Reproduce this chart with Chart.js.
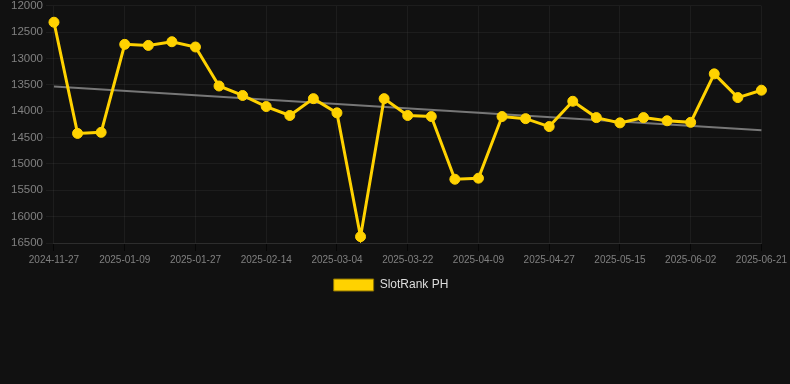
<!DOCTYPE html>
<html>
<head>
<meta charset="utf-8">
<script src="https://cdn.jsdelivr.net/npm/chart.js@4.4.0/dist/chart.umd.min.js"></script>
<style>
  html, body { margin: 0; padding: 0; background: #111111; overflow: hidden; }
  #wrap { position: relative; width: 790px; height: 305px; margin-top: -4px; }
</style>
</head>
<body>
<div id="wrap"><canvas id="rankChart"></canvas></div>
<script>
// Dates (x axis)
const dates = [
    '2024-11-27', '2024-12-21', '2025-01-03', '2025-01-09', '2025-01-15', '2025-01-21',
    '2025-01-27', '2025-02-02', '2025-02-08', '2025-02-14', '2025-02-20', '2025-02-26',
    '2025-03-04', '2025-03-10', '2025-03-16', '2025-03-22', '2025-03-28', '2025-04-03',
    '2025-04-09', '2025-04-15', '2025-04-21', '2025-04-27', '2025-05-03', '2025-05-09',
    '2025-05-15', '2025-05-21', '2025-05-27', '2025-06-02', '2025-06-08', '2025-06-14',
    '2025-06-21'
];

// SlotRank PH rank values
const rankPH = [
    12310, 14420, 14400, 12730, 12750, 12680, 12780, 13520, 13700, 13910, 14080, 13760,
    14030, 16380, 13760, 14080, 14100, 15290, 15270, 14100, 14140, 14290, 13810, 14120,
    14220, 14120, 14180, 14210, 13290, 13740, 13600
];

// Trend line end values (first and last date)
const trendStart = 13530;
const trendEnd = 14360;

// Y axis ticks
const yMin = 12000;
const yMax = 16500;
const yStep = 500;

const trend = dates.map((d, i) => {
    if (i === 0) return trendStart;
    if (i === dates.length - 1) return trendEnd;
    return null;
});

// nudge the legend a bit to the left, like the original
const legendNudge = {
    id: 'legendNudge',
    afterLayout(chart) {
        if (chart.legend) chart.legend.right -= 12;
    }
};

const ctx = document.getElementById('rankChart');
new Chart(ctx, {
    type: 'line',
    data: {
        labels: dates,
        datasets: [{
            label: 'SlotRank PH',
            data: rankPH,
            borderColor: '#FFD200',
            backgroundColor: '#FFD200',
            borderWidth: 3,
            pointRadius: 5,
            pointHoverRadius: 5,
            pointBackgroundColor: '#FFD200',
            pointBorderWidth: 1,
            tension: 0,
            order: 1
        }, {
            label: 'trend',
            data: trend,
            borderColor: '#777777',
            borderWidth: 2,
            pointRadius: 0,
            spanGaps: true,
            tension: 0,
            order: 2
        }]
    },
    plugins: [legendNudge],
    options: {
        responsive: true,
        maintainAspectRatio: false,
        animation: false,
        layout: { padding: { left: 8, right: 4, top: 0, bottom: 0 } },
        plugins: {
            tooltip: { enabled: false },
            legend: {
                position: 'bottom',
                labels: {
                    color: '#dddddd',
                    boxWidth: 40,
                    boxHeight: 12,
                    font: { family: 'Liberation Sans, Arial, sans-serif', size: 12 },
                    filter: item => item.text !== 'trend',
                    generateLabels: function (chart) {
                        const items = Chart.defaults.plugins.legend.labels.generateLabels(chart);
                        items.forEach(it => { it.lineWidth = 1; it.strokeStyle = '#8a7000'; });
                        return items;
                    }
                }
            }
        },
        scales: {
            x: {
                grid: { color: 'rgba(255,255,255,0.05)', tickColor: 'rgba(0,0,0,0.6)' },
                border: { color: 'rgba(255,255,255,0.08)' },
                ticks: {
                    color: '#808080',
                    autoSkip: false,
                    maxRotation: 0,
                    font: { family: 'Liberation Sans, Arial, sans-serif', size: 10 },
                    callback: function (value, index) {
                        return index % 3 === 0 ? dates[index] : null;
                    }
                }
            },
            y: {
                reverse: true,
                min: yMin,
                max: yMax,
                grid: { color: 'rgba(255,255,255,0.05)' },
                border: { display: false },
                ticks: {
                    stepSize: yStep,
                    color: '#808080',
                    font: { family: 'Liberation Sans, Arial, sans-serif', size: 11.5 },
                    callback: value => String(value)
                }
            }
        }
    }
});
</script>
</body>
</html>
